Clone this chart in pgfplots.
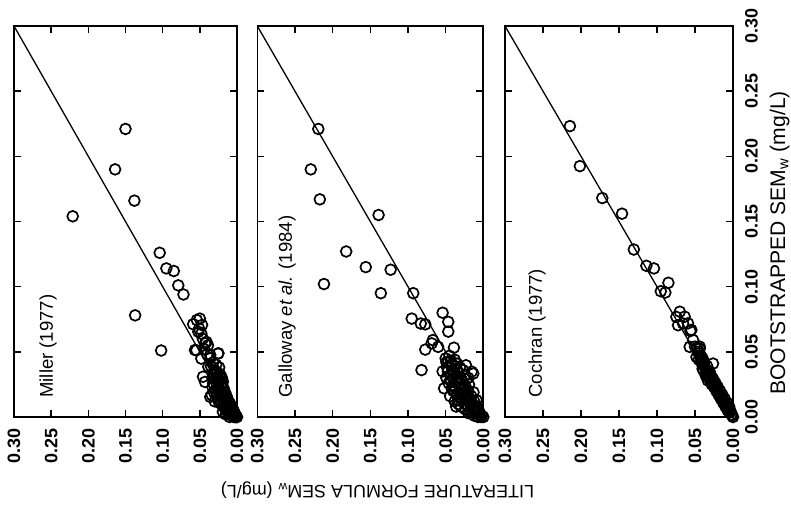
\documentclass[border=0pt]{standalone}
\usepackage{fontspec}
\setmainfont{Liberation Sans}
\usepackage{pgfplots}
\pgfplotsset{compat=1.18}

\pgfplotstableread{
x y
0.150 0.221
0.164 0.190
0.138 0.166
0.221 0.154
0.104 0.126
0.095 0.114
0.085 0.112
0.079 0.101
0.072 0.094
0.137 0.078
0.102 0.051
0.050 0.0755
0.059 0.0712
0.051 0.0678
0.054 0.0744
0.047 0.0706
0.052 0.0654
0.041 0.0576
0.043 0.0565
0.0546 0.0512
0.0565 0.0514
0.0255 0.0486
0.036 0.0476
0.048 0.0448
0.025 0.0489
0.0386 0.0386
0.0457 0.0309
0.043 0.0269
0.0229 0.0309
0.034 0.0169
0.036 0.0154
0.030 0.036
0.027 0.034
0.024 0.038
0.028 0.030
0.025 0.028
0.021 0.031
0.032 0.026
0.022 0.025
0.019 0.027
0.026 0.022
0.018 0.022
0.029 0.020
0.023 0.018
0.016 0.019
0.020 0.015
0.014 0.016
0.025 0.014
0.017 0.012
0.012 0.013
0.021 0.010
0.013 0.009
0.009 0.010
0.016 0.007
0.010 0.006
0.006 0.007
0.012 0.004
0.007 0.004
0.004 0.004
0.008 0.002
0.003 0.002
0.005 0.001
0.002 0.001
0.001 0.000
0.000 0.000
0.004 0.000
0.019 0.004
0.015 0.002
0.030 0.012
0.033 0.030
0.035 0.039
0.028 0.040
0.031 0.033
0.026 0.031
0.023 0.033
0.020 0.029
0.027 0.025
0.024 0.021
0.021 0.023
0.018 0.019
0.022 0.016
0.019 0.014
0.015 0.014
0.017 0.010
0.014 0.011
0.011 0.011
0.013 0.006
0.010 0.008
0.008 0.008
0.006 0.005
0.009 0.004
0.005 0.003
0.003 0.003
0.002 0.000
0.006 0.001
0.011 0.002
0.010 0.000
0.015 0.005
0.018 0.008
0.024 0.011
0.027 0.016
0.031 0.019
0.033 0.023
0.029 0.034
0.032 0.042
0.036 0.045
0.040 0.048
0.044 0.052
0.039 0.055
0.046 0.060
0.048 0.064
}\miller

\pgfplotstableread{
x y
0.219 0.221
0.229 0.190
0.217 0.167
0.139 0.155
0.182 0.127
0.156 0.115
0.123 0.113
0.2115 0.102
0.136 0.095
0.093 0.095
0.054 0.080
0.095 0.0755
0.083 0.0717
0.077 0.0711
0.0465 0.073
0.067 0.059
0.0685 0.0565
0.077 0.0517
0.060 0.0538
0.082 0.036
0.039 0.0532
0.0465 0.0655
0.0465 0.0424
0.023 0.0397
0.0154 0.0348
0.0133 0.0333
0.0353 0.0169
0.0332 0.013
0.0199 0.0156
0.050 0.045
0.045 0.047
0.042 0.040
0.048 0.038
0.038 0.044
0.035 0.036
0.044 0.032
0.040 0.030
0.032 0.031
0.036 0.026
0.046 0.026
0.028 0.028
0.030 0.022
0.040 0.020
0.024 0.024
0.034 0.018
0.026 0.018
0.020 0.020
0.028 0.014
0.022 0.013
0.016 0.016
0.030 0.008
0.018 0.010
0.012 0.012
0.024 0.006
0.014 0.007
0.009 0.008
0.018 0.004
0.010 0.003
0.006 0.005
0.004 0.002
0.002 0.001
0.000 0.000
0.012 0.001
0.007 0.000
0.038 0.012
0.044 0.016
0.052 0.022
0.027 0.036
0.020 0.030
0.049 0.042
0.047 0.035
0.043 0.043
0.041 0.036
0.039 0.034
0.037 0.039
0.043 0.028
0.038 0.024
0.034 0.029
0.031 0.026
0.033 0.034
0.030 0.030
0.027 0.024
0.026 0.021
0.032 0.015
0.029 0.018
0.023 0.016
0.021 0.017
0.025 0.010
0.020 0.008
0.016 0.012
0.014 0.010
0.015 0.004
0.011 0.006
0.008 0.004
0.005 0.002
0.003 0.000
0.009 0.001
0.020 0.003
0.036 0.008
0.033 0.010
0.042 0.022
0.049 0.030
0.054 0.035
0.035 0.041
0.031 0.038
0.024 0.032
0.019 0.025
0.013 0.019
0.009 0.013
}\galloway

\pgfplotstableread{
x y
0.2146 0.2232
0.2015 0.1925
0.172 0.168
0.146 0.156
0.1305 0.1285
0.114 0.116
0.104 0.114
0.085 0.103
0.095 0.0965
0.089 0.0955
0.070 0.0808
0.0745 0.0768
0.0636 0.077
0.0657 0.0717
0.0723 0.0704
0.0592 0.0719
0.0561 0.066
0.0548 0.0668
0.0526 0.0591
0.057 0.0538
0.0438 0.0525
0.0438 0.054
0.0416 0.0461
0.0263 0.041
0.046 0.050
0.043 0.047
0.045 0.044
0.040 0.045
0.041 0.041
0.038 0.042
0.037 0.038
0.034 0.039
0.035 0.035
0.031 0.035
0.032 0.031
0.029 0.032
0.029 0.028
0.026 0.029
0.026 0.025
0.023 0.026
0.023 0.022
0.020 0.023
0.020 0.019
0.017 0.020
0.017 0.016
0.014 0.017
0.014 0.013
0.011 0.014
0.011 0.010
0.008 0.011
0.008 0.007
0.005 0.008
0.005 0.004
0.003 0.004
0.002 0.002
0.000 0.000
0.001 0.001
0.040 0.037
0.033 0.028
0.036 0.032
0.047 0.053
0.044 0.049
0.042 0.044
0.039 0.040
0.036 0.037
0.033 0.034
0.030 0.030
0.027 0.027
0.024 0.024
0.021 0.021
0.018 0.018
0.015 0.015
0.012 0.012
0.009 0.009
0.006 0.006
0.004 0.005
0.039 0.036
0.035 0.033
0.031 0.029
0.028 0.025
0.025 0.023
0.022 0.020
0.019 0.017
0.016 0.014
0.013 0.011
0.010 0.008
0.007 0.005
0.050 0.054
0.048 0.046
}\cochran

\pgfplotsset{
  panel/.style={
    scale only axis,
    height=195.5bp,
    xmin=0, xmax=0.3, ymin=0, ymax=0.3,
    x dir=reverse,
    clip=false,
    axis line style={line width=0.8bp, black},
    tick align=inside,
    major tick length=3.5bp,
    every tick/.style={line width=0.7bp, black},
    xtick={0,0.05,0.1,0.15,0.2,0.25,0.3},
    xticklabels={0.00,0.05,0.10,0.15,0.20,0.25,0.30},
    ytick={0,0.05,0.1,0.15,0.2,0.25,0.3},
    xtick pos=both, ytick pos=both,
    xticklabel style={rotate=90, anchor=east, inner xsep=5.5bp, inner ysep=0pt,
      font=\fontsize{9}{10}\bfseries\selectfont},
    anchor=south west,
  },
  pts/.style={only marks, mark=o, mark size=2.7bp, line width=0.85bp, black},
  diag/.style={no marks, line width=0.65bp, black},
}

\begin{document}
\begin{tikzpicture}
\useasboundingbox (0,0) rectangle (395.5bp,256bp);

\begin{axis}[panel, at={(7bp,47.5bp)}, width=111.5bp, yticklabels={}]
  \addplot[diag] coordinates {(0,0) (0.3,0.3)};
  \addplot[pts] table[x=x,y=y] {\miller};
  \node[rotate=90, anchor=base west, inner sep=0pt, font=\fontsize{9.3}{11}\selectfont]
    at (rel axis cs:0.174,0.0486) {Miller (1977)};
\end{axis}

\begin{axis}[panel, at={(128.65bp,47.5bp)}, width=113bp, yticklabels={}]
  \addplot[diag] coordinates {(0,0) (0.3,0.3)};
  \addplot[pts] table[x=x,y=y] {\galloway};
  \node[rotate=90, anchor=base west, inner sep=0pt, font=\fontsize{9.3}{11}\selectfont]
    at (rel axis cs:0.153,0.0486) {Galloway \textit{et al.} (1984)};
\end{axis}

\begin{axis}[panel, at={(252.5bp,47.5bp)}, width=114bp,
    yticklabel pos=right,
    yticklabels={0.00,0.05,0.10,0.15,0.20,0.25,0.30},
    yticklabel style={rotate=90, anchor=north, inner ysep=5.9bp, inner xsep=0pt,
      font=\fontsize{9}{10}\bfseries\selectfont}]
  \addplot[diag] coordinates {(0,0) (0.3,0.3)};
  \addplot[pts] table[x=x,y=y] {\cochran};
  \node[rotate=90, anchor=base west, inner sep=0pt, font=\fontsize{9.3}{11}\selectfont]
    at (rel axis cs:0.162,0.0486) {Cochran (1977)};
\end{axis}

\node[rotate=180, anchor=base, inner sep=0pt, font=\fontsize{9}{10}\selectfont]
  at (188.75bp,13.5bp) {LITERATURE FORMULA SEM\textsubscript{w} (mg/L)};
\node[rotate=90, anchor=base, inner sep=0pt, font=\fontsize{10.6}{12}\selectfont]
  at (392.5bp,134.5bp) {BOOTSTRAPPED SEM\textsubscript{w} (mg/L)};
\end{tikzpicture}
\end{document}
